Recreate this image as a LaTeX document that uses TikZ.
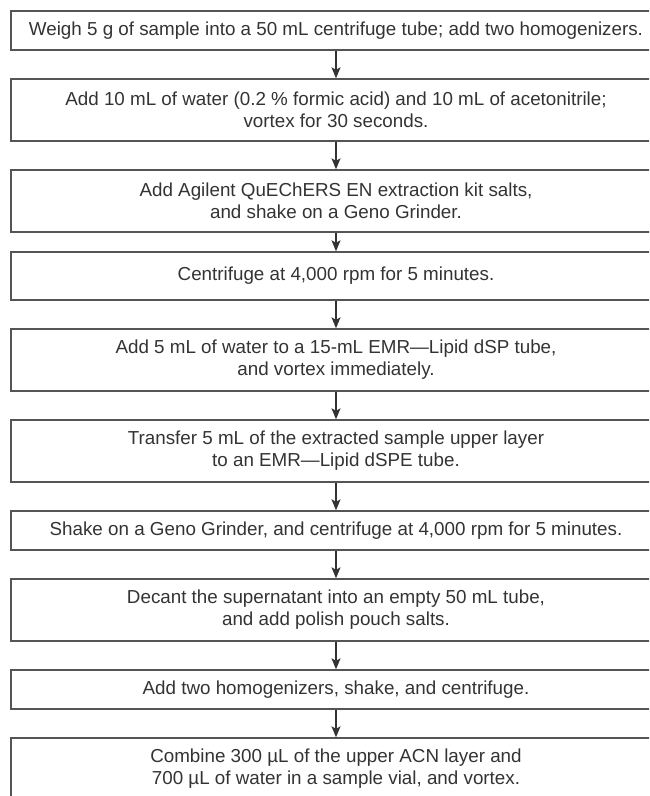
\documentclass[tikz,border=0pt]{standalone}
\usepackage{fontspec}
\setmainfont{Liberation Sans}
\usetikzlibrary{arrows.meta}
\definecolor{txt}{HTML}{333333}
\definecolor{ln}{HTML}{555555}
\tikzset{
  stepbox/.style={draw=ln, line width=1.4pt, minimum width=650pt, align=center,
    inner sep=0pt, text=txt, font=\fontsize{18.8}{22}\selectfont},
  flow/.style={draw=txt, line width=1.1pt, -{Stealth[length=11pt,width=9pt,inset=2.5pt]}}
}
\begin{document}
\begin{tikzpicture}[x=1pt,y=-1pt]
\useasboundingbox (0,0) rectangle (649,796);
\clip (0,0) rectangle (649,796);
\node[stepbox, minimum height=39pt] (b1) at (336,30.5) {Weigh 5 g of sample into a 50 mL centrifuge tube; add two homogenizers.};
\node[stepbox, minimum height=62pt] (b2) at (336,110) {Add 10 mL of water (0.2 \% formic acid) and 10 mL of acetonitrile;\\vortex for 30 seconds.};
\node[stepbox, minimum height=62pt] (b3) at (336,201) {Add Agilent QuEChERS EN extraction kit salts,\\and shake on a Geno Grinder.};
\node[stepbox, minimum height=48pt] (b4) at (336,276) {Centrifuge at 4,000 rpm for 5 minutes.};
\node[stepbox, minimum height=62pt] (b5) at (336,360) {Add 5 mL of water to a 15-mL EMR---Lipid dSP tube,\\and vortex immediately.};
\node[stepbox, minimum height=62pt] (b6) at (336,451) {Transfer 5 mL of the extracted sample upper layer\\to an EMR---Lipid dSPE tube.};
\node[stepbox, minimum height=39pt] (b7) at (336,530.5) {Shake on a Geno Grinder, and centrifuge at 4,000 rpm for 5 minutes.};
\node[stepbox, minimum height=62pt] (b8) at (336,610) {Decant the supernatant into an empty 50 mL tube,\\and add polish pouch salts.};
\node[stepbox, minimum height=39pt] (b9) at (336,689.5) {Add two homogenizers, shake, and centrifuge.};
\node[stepbox, minimum height=62pt] (b10) at (336,769) {Combine 300 µL of the upper ACN layer and\\700 µL of water in a sample vial, and vortex.};
\foreach \a/\b in {b1/b2,b2/b3,b3/b4,b4/b5,b5/b6,b6/b7,b7/b8,b8/b9,b9/b10}
  \draw[flow] (\a.south) -- (\b.north);
\end{tikzpicture}
\end{document}
